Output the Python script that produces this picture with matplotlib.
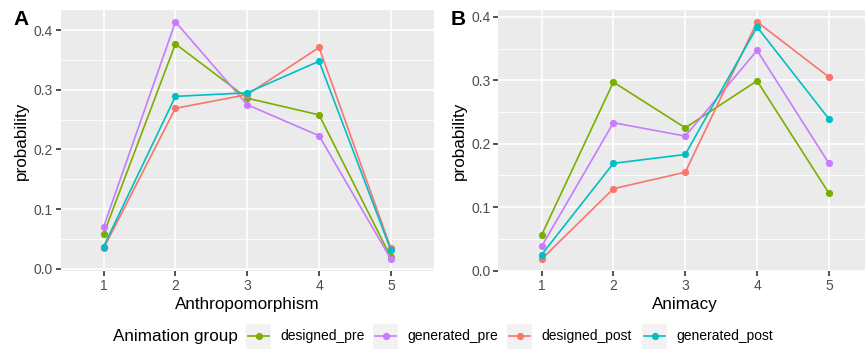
import numpy as np
import matplotlib
matplotlib.use("Agg")
import matplotlib.pyplot as plt
from matplotlib.patches import Rectangle
from matplotlib.lines import Line2D

plt.rcParams['font.family'] = ['Liberation Sans', 'DejaVu Sans']

# ---- data ----
levels = [1, 2, 3, 4, 5]
groups = ["designed_pre", "generated_pre", "designed_post", "generated_post"]
colors = ["#7CAE00", "#C77CFF", "#F8766D", "#00BFC4"]

anthro_designed_pre = [0.058, 0.377, 0.286, 0.258, 0.019]
anthro_generated_pre = [0.070, 0.414, 0.275, 0.223, 0.016]
anthro_designed_post = [0.034, 0.269, 0.292, 0.371, 0.034]
anthro_generated_post = [0.037, 0.289, 0.295, 0.348, 0.031]

anim_designed_pre = [0.056, 0.297, 0.225, 0.299, 0.122]
anim_generated_pre = [0.038, 0.233, 0.212, 0.347, 0.169]
anim_designed_post = [0.018, 0.129, 0.155, 0.392, 0.305]
anim_generated_post = [0.025, 0.169, 0.183, 0.384, 0.239]

panels = [
    ("A", "Anthropomorphism",
     [anthro_designed_pre, anthro_generated_pre, anthro_designed_post, anthro_generated_post]),
    ("B", "Animacy",
     [anim_designed_pre, anim_generated_pre, anim_designed_post, anim_generated_post]),
]

W, H = 865, 351
fig = plt.figure(figsize=(W / 100, H / 100), dpi=100)

BG = "#EBEBEB"
LW = 1.2
axes_px = [(60.5, 10, 373.5, 261), (498.5, 10, 373.5, 261)]

for (tag, xlabel, series), (x0, y0, w, h) in zip(panels, axes_px):
    ax = fig.add_axes([x0 / W, 1 - (y0 + h) / H, w / W, h / H])
    ax.set_facecolor(BG)
    for s in ax.spines.values():
        s.set_visible(False)

    for vals, col in zip(series, colors):
        ax.plot(levels, vals, color=col, lw=LW, marker='o', ms=5.2,
                markeredgewidth=0, zorder=3)

    allv = np.concatenate(series)
    lo, hi = allv.min(), allv.max()
    pad = 0.05 * (hi - lo)
    ax.set_ylim(lo - pad, hi + pad)
    ax.set_xlim(0.4, 5.6)

    ax.set_xticks(levels)
    ax.set_yticks([0.0, 0.1, 0.2, 0.3, 0.4])
    ax.set_yticklabels(["0.0", "0.1", "0.2", "0.3", "0.4"])
    ax.set_yticks([0.05, 0.15, 0.25, 0.35], minor=True)
    ax.grid(True, which='major', color='white', lw=LW)
    ax.grid(True, which='minor', axis='y', color='white', lw=LW / 2)
    ax.set_axisbelow(True)
    ax.tick_params(which='major', length=3.5, width=LW, color='#333333',
                   labelcolor='#4D4D4D', labelsize=10, pad=2)
    ax.tick_params(which='minor', length=0)

    ax.set_xlabel(xlabel, fontsize=12.3, labelpad=3)
    ax.set_ylabel("probability", fontsize=12.3, labelpad=3)

    fig.text((x0 - 47.5) / W, 1 - 10 / H, tag, fontsize=15,
             fontweight='bold', ha='left', va='top')

# ---- legend (ggplot style, bottom, horizontal) ----
leg = fig.add_axes([0, 0, 1, 1])
leg.set_xlim(0, W)
leg.set_ylim(H, 0)
leg.axis('off')

ly = 336
leg.text(113, ly, "Animation group", fontsize=12.3, va='center', ha='left')
key_x = [246, 373, 507, 642]
for kx, name, col in zip(key_x, groups, colors):
    leg.add_patch(Rectangle((kx, ly - 12.5), 25, 25, facecolor='#F2F2F2',
                            edgecolor='none'))
    leg.add_line(Line2D([kx + 2, kx + 23], [ly, ly], color=col, lw=LW))
    leg.plot([kx + 12.5], [ly], marker='o', color=col, ms=5.2,
             markeredgewidth=0)
    leg.text(kx + 34, ly, name, fontsize=10, va='center', ha='left')

fig.savefig("out.png", dpi=100)
